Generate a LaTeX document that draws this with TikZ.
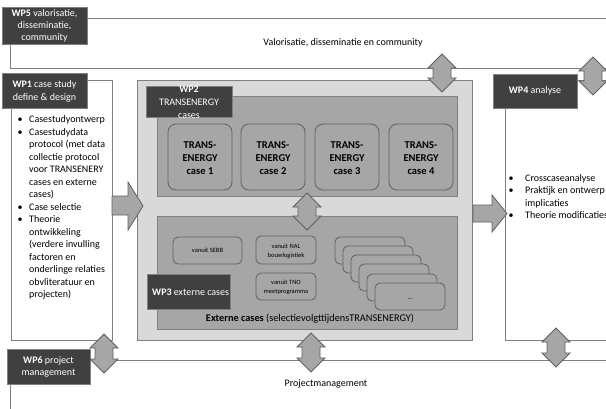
\documentclass[tikz,border=0pt]{standalone}
\usepackage{fontspec}
\setmainfont{Carlito}
\usetikzlibrary{fit}

\definecolor{labelfill}{HTML}{404040}
\definecolor{lightfill}{HTML}{D9D9D9}
\definecolor{midfill}{HTML}{A6A6A6}
\definecolor{edgegray}{HTML}{808080}
\definecolor{darkedge}{HTML}{606060}

\tikzset{
  band/.style={draw=edgegray, line width=0.9pt, inner sep=0pt},
  outerbox/.style={draw=edgegray, fill=lightfill, line width=1pt, inner sep=0pt},
  innerbox/.style={draw=edgegray, fill=midfill, line width=1pt, inner sep=0pt},
  wplabel/.style={draw=edgegray, fill=labelfill, inner sep=0pt, line width=0.8pt},
  labeltext/.style={text=white, align=center, inner sep=0pt,
    font=\fontsize{10}{12}\selectfont},
  casebox/.style={draw=darkedge, fill=midfill, rounded corners=8pt, line width=0.8pt,
    inner sep=0pt},
  casetext/.style={align=center, inner sep=0pt,
    font=\bfseries\fontsize{10.5}{13}\selectfont},
  smallbox/.style={draw=darkedge, fill=midfill, rounded corners=5pt, line width=0.8pt,
    inner sep=0pt},
  smalltext/.style={align=center, inner sep=0pt, font=\fontsize{6.5}{9}\selectfont},
  blockarrow/.style={draw=darkedge, fill=midfill, line width=0.8pt, line join=miter},
  plaintext/.style={inner sep=0pt, font=\fontsize{10}{12.5}\selectfont},
  bullettext/.style={inner sep=0pt, align=left, anchor=base west,
    font=\fontsize{10}{12.5}\selectfont},
}

% vertical two-headed block arrow: tip x, top tip y, shaft length
\newcommand{\vblockarrow}[3]{%
  \draw[blockarrow] (#1,#2) -- ++(14,14) -- ++(-5,0) -- ++(0,#3) -- ++(5,0)
    -- ++(-14,14) -- ++(-14,-14) -- ++(5,0) -- ++(0,-#3) -- ++(-5,0) -- cycle;}

\begin{document}
\begin{tikzpicture}[x=1pt,y=-1pt]
\useasboundingbox (0,0) rectangle (606,408);
\clip (0,0) rectangle (606,408);

% bands for the transverse work packages
\node[band, fit={(10,18) (640,68)}] (wp5band) {};
\node[band, fit={(10,360) (640,430)}] (wp6band) {};

% side boxes
\node[band, fit={(11,80) (112,340)}] (wp1box) {};
\node[band, fit={(505,80) (640,340)}] (wp4box) {};

% central block with WP2 and WP3
\node[outerbox, fit={(137,80) (472,340)}] (central) {};
\node[innerbox, fit={(157,96) (457,196)}] (wp2box) {};
\node[innerbox, fit={(157,216) (457,329)}] (wp3box) {};

% TRANSENERGY cases
\foreach \n/\x in {1/168, 2/241, 3/315, 4/389} {
  \node[casebox, fit={(\x,124) (\x+64,190)}] (case\n) {};
  \node[casetext, yshift=-1pt] (case\n text) at (case\n.center) {TRANS-\\ENERGY\\case \n};
}

% external cases
\node[smallbox, fit={(173,237) (242,264)}] (sebb) {};
\node[smalltext] (sebbtext) at (sebb.center) {vanuit SEBB};
\node[smallbox, fit={(256,236) (316,264)}] (nal) {};
\node[smalltext, yshift=-1.5pt] (naltext) at (nal.center) {vanuit NAL\\bouwlogistiek};
\node[smallbox, fit={(256,273) (316,300)}] (tno) {};
\node[smalltext, yshift=-1pt] (tnotext) at (tno.center) {vanuit TNO\\meetprogramma};
\node[smallbox, fit={(335,237) (405,264)}] (stacka) {};
\node[smallbox, fit={(343,246) (413,273)}] (stackb) {};
\node[smallbox, fit={(351,255) (421,282)}] (stackc) {};
\node[smallbox, fit={(359,264) (429,291)}] (stackd) {};
\node[smallbox, fit={(367,274) (437,301)}] (stacke) {};
\node[smallbox, fit={(375,283) (445,310)}] (stackf) {};
\node[inner sep=0pt, font=\fontsize{6.5}{8}\selectfont] (dots) at (410,299) {...};
\node[plaintext, font=\fontsize{10.3}{12.5}\selectfont] (externtext) at (310,319)
  {\textbf{Externe cases} (selectievolgttijdensTRANSENERGY)};

% work package labels
\node[wplabel, fit={(2,7) (87,44)}] (wp5) {};
\node[labeltext] (wp5text) at (wp5.center)
  {\textbf{WP5} valorisatie,\\disseminatie,\\community};
\node[wplabel, fit={(2,73) (87,108)}] (wp1) {};
\node[labeltext, yshift=-1pt, font=\fontsize{10}{13}\selectfont] (wp1text) at (wp1.center)
  {\textbf{WP1} case study\\define \& design};
\node[wplabel, fit={(146,86) (232,117)}] (wp2) {};
\node[labeltext, font=\fontsize{10}{13}\selectfont] (wp2text) at (189,102.5)
  {\textbf{WP2}\\TRANSENERGY\\cases};
\node[wplabel, fit={(147,274) (230,309)}] (wp3) {};
\node[plaintext, text=white, anchor=west] (wp3text) at (152,292) {\textbf{WP3} externe cases};
\node[wplabel, fit={(493,74) (577,108)}] (wp4) {};
\node[labeltext] (wp4text) at (wp4.center) {\textbf{WP4} analyse};
\node[wplabel, fit={(7,349) (90,384)}] (wp6) {};
\node[labeltext] (wp6text) at (wp6.center) {\textbf{WP6} project\\management};

% band texts
\node[plaintext] (valtext) at (343,43) {Valorisatie, disseminatie en community};
\node[plaintext] (pmtext) at (326,384) {Projectmanagement};

% WP1 contents (anchored at the baseline of the last line)
\node[bullettext] (wp1list) at (17.5,297.5) {%
  \makebox[11.5pt][l]{\textbullet}Casestudyontwerp\\
  \makebox[11.5pt][l]{\textbullet}Casestudydata\\
  \hspace*{11.5pt}protocol (met data\\
  \hspace*{11.5pt}collectie protocol\\
  \hspace*{11.5pt}voor TRANSENERY\\
  \hspace*{11.5pt}cases en externe\\
  \hspace*{11.5pt}cases)\\
  \makebox[11.5pt][l]{\textbullet}Case selectie\\
  \makebox[11.5pt][l]{\textbullet}Theorie\\
  \hspace*{11.5pt}ontwikkeling\\
  \hspace*{11.5pt}(verdere invulling\\
  \hspace*{11.5pt}factoren en\\
  \hspace*{11.5pt}onderlinge relaties\\
  \hspace*{11.5pt}obvliteratuur en\\
  \hspace*{11.5pt}projecten)};

% WP4 contents (anchored at the baseline of the last line)
\node[bullettext] (wp4list) at (508.5,218.5) {%
  \makebox[16.5pt][l]{\textbullet}Crosscaseanalyse\\
  \makebox[16.5pt][l]{\textbullet}Praktijk en ontwerp\\
  \hspace*{16.5pt}implicaties\\
  \makebox[16.5pt][l]{\textbullet}Theorie modificaties};

% block arrows between the work packages
\draw[blockarrow] (112,196) -- (128,196) -- (128,182) -- (143,206) -- (128,230)
  -- (128,215) -- (112,215) -- cycle;
\draw[blockarrow] (473,205) -- (492,205) -- (492,195) -- (507,213.5) -- (492,232)
  -- (492,222) -- (473,222) -- cycle;
\vblockarrow{442}{54}{10}
\vblockarrow{593}{57}{10}
\vblockarrow{307}{193}{9}
\vblockarrow{104}{334}{11}
\vblockarrow{311}{333}{11}
\vblockarrow{556}{328}{11}
\end{tikzpicture}
\end{document}
